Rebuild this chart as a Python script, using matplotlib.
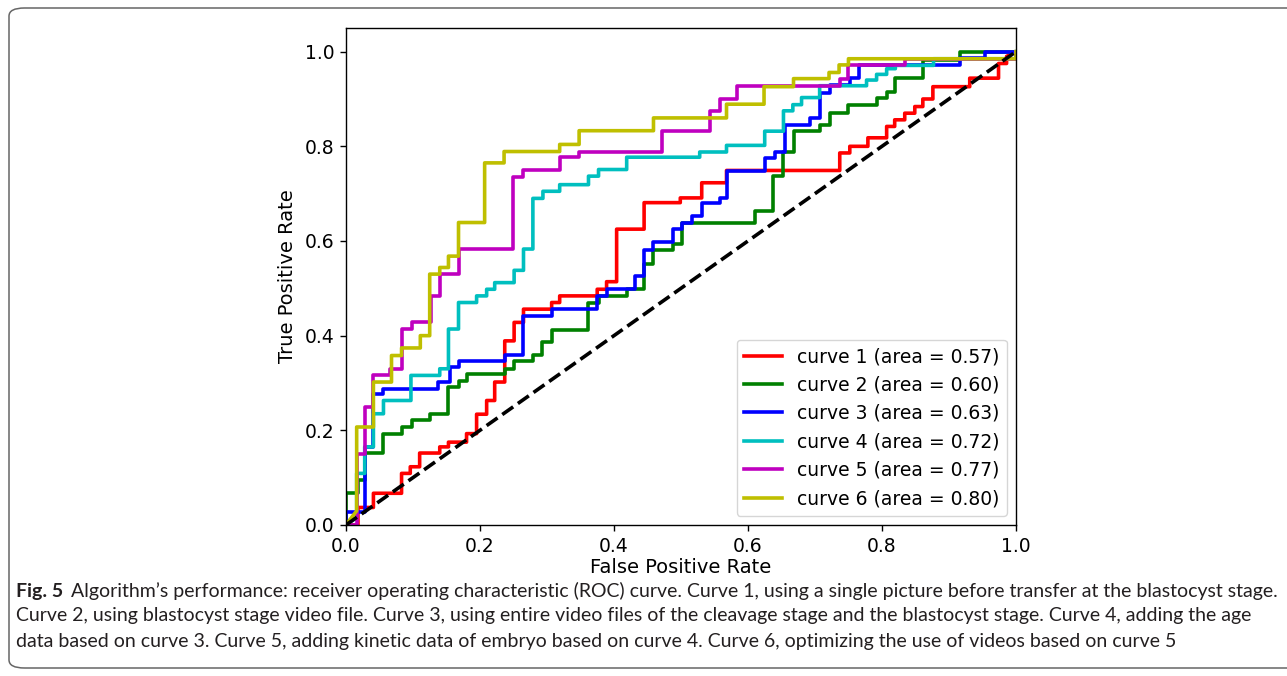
import matplotlib
matplotlib.use("Agg")
import matplotlib.pyplot as plt
from matplotlib.patches import FancyBboxPatch

# ROC curve vertices (false positive rate, true positive rate)
fpr1 = [0, 0.018, 0.018, 0.041, 0.041, 0.083, 0.083, 0.096, 0.096, 0.11, 0.11, 0.14, 0.14, 0.153, 0.153,
        0.18, 0.18, 0.195, 0.195, 0.21, 0.21, 0.222, 0.222, 0.237, 0.237, 0.251, 0.251, 0.265, 0.265,
        0.307, 0.307, 0.319, 0.319, 0.375, 0.375, 0.389, 0.389, 0.404, 0.404, 0.445, 0.445, 0.499, 0.499,
        0.531, 0.531, 0.568, 0.568, 0.737, 0.737, 0.752, 0.752, 0.779, 0.779, 0.807, 0.807, 0.819, 0.819,
        0.834, 0.834, 0.849, 0.849, 0.861, 0.861, 0.876, 0.876, 0.931, 0.931, 0.974, 0.974, 0.986, 0.986, 1.0]
tpr1 = [0, 0, 0.037, 0.037, 0.067, 0.067, 0.109, 0.109, 0.123, 0.123, 0.152, 0.152, 0.165, 0.165, 0.175,
        0.175, 0.193, 0.193, 0.234, 0.234, 0.263, 0.263, 0.302, 0.302, 0.389, 0.389, 0.428, 0.428, 0.456,
        0.456, 0.47, 0.47, 0.484, 0.484, 0.498, 0.498, 0.514, 0.514, 0.625, 0.625, 0.681, 0.681, 0.691,
        0.691, 0.723, 0.723, 0.749, 0.749, 0.786, 0.786, 0.80, 0.80, 0.818, 0.818, 0.842, 0.842, 0.856,
        0.856, 0.870, 0.870, 0.884, 0.884, 0.90, 0.90, 0.926, 0.926, 0.944, 0.944, 0.975, 0.975, 0.99, 1.0]

fpr2 = [0, 0, 0.018, 0.018, 0.028, 0.028, 0.056, 0.056, 0.083, 0.083, 0.098, 0.098, 0.125, 0.125, 0.153,
        0.153, 0.168, 0.168, 0.18, 0.18, 0.237, 0.237, 0.251, 0.251, 0.279, 0.279, 0.292, 0.292, 0.307,
        0.307, 0.362, 0.362, 0.377, 0.377, 0.419, 0.419, 0.445, 0.445, 0.459, 0.459, 0.488, 0.488, 0.501,
        0.501, 0.61, 0.61, 0.638, 0.638, 0.653, 0.653, 0.668, 0.668, 0.707, 0.707, 0.722, 0.722, 0.75,
        0.75, 0.792, 0.792, 0.807, 0.807, 0.819, 0.819, 0.862, 0.862, 0.916, 0.916, 1.0]
tpr2 = [0, 0.067, 0.067, 0.094, 0.094, 0.152, 0.152, 0.193, 0.193, 0.207, 0.207, 0.221, 0.221, 0.234, 0.234,
        0.291, 0.291, 0.305, 0.305, 0.318, 0.318, 0.33, 0.33, 0.346, 0.346, 0.36, 0.36, 0.386, 0.386,
        0.412, 0.412, 0.47, 0.47, 0.484, 0.484, 0.498, 0.498, 0.552, 0.552, 0.58, 0.58, 0.594, 0.594,
        0.639, 0.639, 0.663, 0.663, 0.737, 0.737, 0.789, 0.789, 0.832, 0.832, 0.846, 0.846, 0.87, 0.87,
        0.888, 0.888, 0.902, 0.902, 0.914, 0.914, 0.944, 0.944, 0.983, 0.983, 1.0, 1.0]

fpr3 = [0, 0, 0.028, 0.028, 0.041, 0.041, 0.056, 0.056, 0.138, 0.138, 0.155, 0.155, 0.168, 0.168, 0.237,
        0.237, 0.265, 0.265, 0.307, 0.307, 0.375, 0.375, 0.389, 0.389, 0.431, 0.431, 0.445, 0.445, 0.459,
        0.459, 0.488, 0.488, 0.501, 0.501, 0.516, 0.516, 0.531, 0.531, 0.558, 0.558, 0.568, 0.568, 0.625,
        0.625, 0.640, 0.640, 0.655, 0.655, 0.693, 0.693, 0.707, 0.707, 0.722, 0.722, 0.752, 0.752, 0.765,
        0.765, 0.916, 0.916, 0.954, 0.954, 1.0]
tpr3 = [0, 0.028, 0.028, 0.165, 0.165, 0.277, 0.277, 0.288, 0.288, 0.302, 0.302, 0.333, 0.333, 0.346, 0.346,
        0.36, 0.36, 0.442, 0.442, 0.456, 0.456, 0.484, 0.484, 0.498, 0.498, 0.526, 0.526, 0.58, 0.58,
        0.597, 0.597, 0.625, 0.625, 0.639, 0.639, 0.653, 0.653, 0.681, 0.681, 0.691, 0.691, 0.747, 0.747,
        0.775, 0.775, 0.789, 0.789, 0.846, 0.846, 0.86, 0.86, 0.912, 0.912, 0.93, 0.93, 0.944, 0.944,
        0.972, 0.972, 0.986, 0.986, 1.0, 1.0]

fpr4 = [0, 0.016, 0.016, 0.028, 0.028, 0.041, 0.041, 0.056, 0.056, 0.097, 0.097, 0.14, 0.14, 0.153, 0.153,
        0.168, 0.168, 0.195, 0.195, 0.21, 0.21, 0.222, 0.222, 0.251, 0.251, 0.265, 0.265, 0.279, 0.279,
        0.294, 0.294, 0.319, 0.319, 0.362, 0.362, 0.377, 0.377, 0.419, 0.419, 0.528, 0.528, 0.568, 0.568,
        0.625, 0.625, 0.653, 0.653, 0.667, 0.667, 0.68, 0.68, 0.707, 0.707, 0.777, 0.777, 0.792, 0.792,
        0.807, 0.807, 0.82, 0.82, 0.877, 0.877, 1.0, 1.0]
tpr4 = [0, 0.016, 0.109, 0.109, 0.165, 0.165, 0.235, 0.235, 0.263, 0.263, 0.316, 0.316, 0.33, 0.33, 0.414,
        0.414, 0.47, 0.47, 0.484, 0.484, 0.498, 0.498, 0.512, 0.512, 0.538, 0.538, 0.583, 0.583, 0.69,
        0.69, 0.705, 0.705, 0.719, 0.719, 0.737, 0.737, 0.751, 0.751, 0.777, 0.777, 0.788, 0.788, 0.802,
        0.802, 0.832, 0.832, 0.875, 0.875, 0.888, 0.888, 0.903, 0.903, 0.928, 0.928, 0.94, 0.94, 0.952,
        0.952, 0.964, 0.964, 0.971, 0.971, 0.985, 0.985, 1.0]

fpr5 = [0, 0.016, 0.016, 0.028, 0.028, 0.041, 0.041, 0.066, 0.066, 0.083, 0.083, 0.098, 0.098, 0.127, 0.127,
        0.14, 0.14, 0.168, 0.168, 0.249, 0.249, 0.264, 0.264, 0.319, 0.319, 0.348, 0.348, 0.472, 0.472,
        0.543, 0.543, 0.558, 0.558, 0.583, 0.583, 0.737, 0.737, 0.75, 0.75, 0.834, 0.834, 1.0, 1.0]
tpr5 = [0, 0, 0.151, 0.151, 0.249, 0.249, 0.316, 0.316, 0.33, 0.33, 0.414, 0.414, 0.428, 0.428, 0.484,
        0.484, 0.53, 0.53, 0.583, 0.583, 0.735, 0.735, 0.749, 0.749, 0.777, 0.777, 0.789, 0.789, 0.832,
        0.832, 0.874, 0.874, 0.90, 0.90, 0.928, 0.928, 0.943, 0.943, 0.971, 0.971, 0.985, 0.985, 1.0]

fpr6 = [0, 0.016, 0.016, 0.041, 0.041, 0.068, 0.068, 0.083, 0.083, 0.111, 0.111, 0.125, 0.125, 0.14, 0.14,
        0.153, 0.153, 0.168, 0.168, 0.207, 0.207, 0.236, 0.236, 0.319, 0.319, 0.348, 0.348, 0.459, 0.459,
        0.568, 0.568, 0.624, 0.624, 0.668, 0.668, 0.721, 0.721, 0.736, 0.736, 0.75, 0.75, 1.0, 1.0]
tpr6 = [0, 0.03, 0.207, 0.207, 0.302, 0.302, 0.358, 0.358, 0.374, 0.374, 0.40, 0.40, 0.53, 0.53, 0.544,
        0.544, 0.568, 0.568, 0.639, 0.639, 0.765, 0.765, 0.789, 0.789, 0.804, 0.804, 0.833, 0.833, 0.86,
        0.86, 0.889, 0.889, 0.926, 0.926, 0.943, 0.943, 0.956, 0.956, 0.972, 0.972, 0.985, 0.985, 1.0]

areas = [0.57, 0.60, 0.63, 0.72, 0.77, 0.80]
colors = ['r', 'g', 'b', 'c', 'm', 'y']
curves = [(fpr1, tpr1), (fpr2, tpr2), (fpr3, tpr3), (fpr4, tpr4), (fpr5, tpr5), (fpr6, tpr6)]

caption_bold = "Fig. 5"
caption_line1 = ("Algorithm\u2019s performance: receiver operating characteristic (ROC) curve. "
                 "Curve 1, using a single picture before transfer at the blastocyst stage.")
caption_line2 = ("Curve 2, using blastocyst stage video file. Curve 3, using entire video files of the "
                 "cleavage stage and the blastocyst stage. Curve 4, adding the age")
caption_line3 = ("data based on curve 3. Curve 5, adding kinetic data of embryo based on curve 4. "
                 "Curve 6, optimizing the use of videos based on curve 5")

plt.rcParams['font.size'] = 13.5

fig = plt.figure(figsize=(12.87, 6.76), dpi=100)
ax = fig.add_axes([0.2688, 0.2234, 0.5206, 0.7352])

for i, (fx, ty) in enumerate(curves):
    ax.plot(fx, ty, color=colors[i], lw=2.6, label=f'curve {i + 1} (area = {areas[i]:.2f})')
ax.plot([0, 1], [0, 1], 'k--', lw=2.6)

ax.set_xlim(0.0, 1.0)
ax.set_ylim(0.0, 1.05)
ax.set_xlabel('False Positive Rate', fontsize=14, labelpad=1)
ax.set_ylabel('True Positive Rate', fontsize=14, labelpad=6)
ax.tick_params(length=4.5, width=1, labelsize=13.5)
ax.tick_params(axis='x', pad=4.5)
for s in ax.spines.values():
    s.set_linewidth(1)
ax.legend(loc='lower right', fontsize=13.5)

# rounded frame around figure and caption
frame = FancyBboxPatch((9 / 1287, 8 / 676), 1.05, 660 / 676,
                       boxstyle="round,pad=0,rounding_size=0.012",
                       transform=fig.transFigure, fill=False, edgecolor='#666666', lw=1.1)
fig.patches.append(frame)

cap_font = ['Lato', 'DejaVu Sans']
cap_size = 14.0
t = fig.text(16 / 1287, 1 - 591 / 676, caption_bold, fontsize=cap_size, fontweight='bold',
             family=cap_font, va='center', color='#231f20')
fig.canvas.draw()
bb = t.get_window_extent()
fig.text((bb.x1 + 8) / 1287, 1 - 591 / 676, caption_line1, fontsize=cap_size,
         family=cap_font, va='center', color='#231f20')
fig.text(16 / 1287, 1 - 616 / 676, caption_line2, fontsize=cap_size,
         family=cap_font, va='center', color='#231f20')
fig.text(16 / 1287, 1 - 642 / 676, caption_line3, fontsize=cap_size,
         family=cap_font, va='center', color='#231f20')

fig.savefig('out.png', dpi=100)
